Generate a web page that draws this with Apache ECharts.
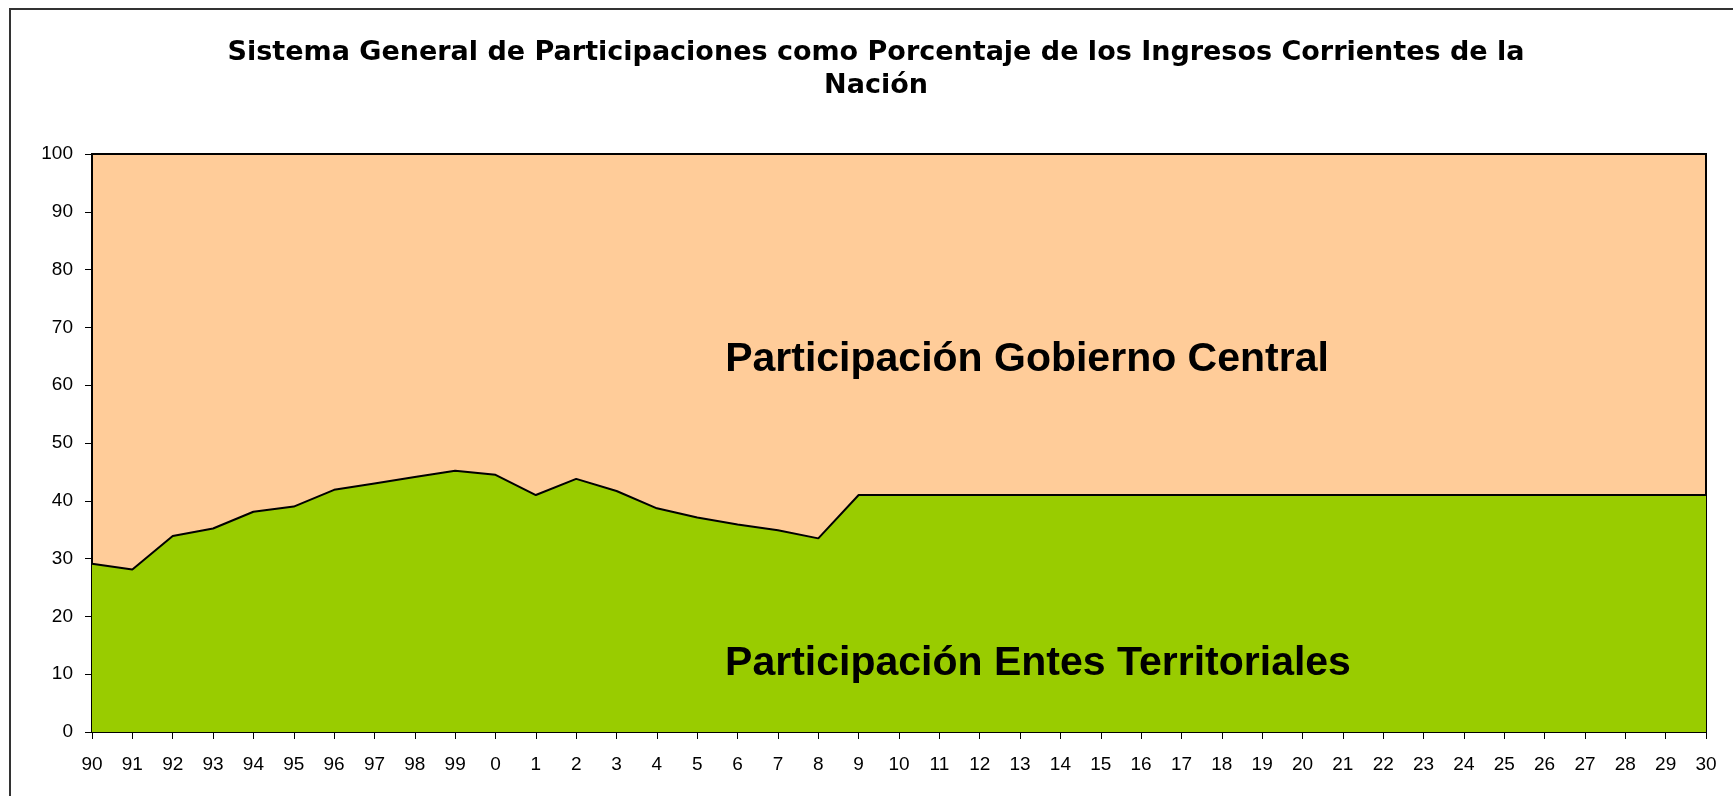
<!DOCTYPE html>
<html>
<head>
<meta charset="utf-8">
<script src="https://cdn.jsdelivr.net/npm/echarts@6/dist/echarts.min.js"></script>
<style>
  html, body { margin: 0; padding: 0; background: #fff; }
  #chart { width: 1733px; height: 796px; }
</style>
</head>
<body>
<div id="chart"></div>
<script>
// años: 1990-1999 y luego 2000-2030
var years = ['90', '91', '92', '93', '94', '95', '96', '97', '98', '99',
  '0', '1', '2', '3', '4', '5', '6', '7', '8', '9', '10',
  '11', '12', '13', '14', '15', '16', '17', '18', '19', '20',
  '21', '22', '23', '24', '25', '26', '27', '28', '29', '30'];

// participación entes territoriales (%)
var entes = [29.1, 28.1, 33.9, 35.2, 38.1, 39.0, 41.9, 43.0, 44.1, 45.2,
  44.5, 41.0, 43.8, 41.7, 38.7, 37.1, 35.9, 34.9, 33.5, 41.0, 41.0,
  41.0, 41.0, 41.0, 41.0, 41.0, 41.0, 41.0, 41.0, 41.0, 41.0,
  41.0, 41.0, 41.0, 41.0, 41.0, 41.0, 41.0, 41.0, 41.0, 41.0];

var titulo = 'Sistema General de Participaciones como Porcentaje de los Ingresos Corrientes de la\nNación';
var labelCentral = 'Participación Gobierno Central';
var labelEntes = 'Participación Entes Territoriales';

var FONT = '"Liberation Sans", Arial, sans-serif';

var myChart = echarts.init(document.getElementById('chart'));
var option = {
  animation: false,
  backgroundColor: '#fff',
  title: {
    text: titulo,
    left: 871,
    textAlign: 'center',
    top: 31,
    textStyle: {
      fontFamily: '"DejaVu Sans", sans-serif',
      fontWeight: 'bold',
      fontSize: 27,
      lineHeight: 33,
      color: '#000'
    }
  },
  grid: {
    left: 92,
    right: 27,
    top: 154,
    bottom: 64,
    show: true,
    backgroundColor: '#FFCC99',   // área del gobierno central
    borderColor: '#000',
    borderWidth: 2
  },
  xAxis: {
    type: 'category',
    data: years,
    boundaryGap: false,
    axisLine: { lineStyle: { color: '#000', width: 1.5 } },
    axisTick: { show: true, length: 7, lineStyle: { color: '#000' } },
    axisLabel: {
      interval: 0,
      margin: 23,
      fontFamily: FONT,
      fontSize: 19,
      color: '#000'
    },
    splitLine: { show: false }
  },
  yAxis: {
    type: 'value',
    min: 0,
    max: 100,
    interval: 10,
    axisLine: { show: true, lineStyle: { color: '#000', width: 1.5 } },
    axisTick: { show: true, length: 7, lineStyle: { color: '#000' } },
    axisLabel: {
      margin: 19,
      fontFamily: FONT,
      fontSize: 19,
      color: '#000'
    },
    splitLine: { show: false }
  },
  series: [
    {
      name: labelEntes,
      type: 'line',
      data: entes,
      symbol: 'none',
      lineStyle: { color: '#000', width: 2 },
      areaStyle: { color: '#99CC00', opacity: 1 }
    }
  ],
  graphic: [
    {
      type: 'rect',
      shape: { x: 10, y: 9, width: 1800, height: 900 },
      style: { fill: 'none', stroke: '#333', lineWidth: 2 },
      silent: true
    },
    {
      type: 'text',
      x: 1027,
      y: 360,
      z: 10,
      style: {
        text: labelCentral,
        font: 'bold 41px ' + FONT,
        fill: '#000',
        align: 'center',
        verticalAlign: 'middle'
      }
    },
    {
      type: 'text',
      x: 1038,
      y: 664,
      z: 10,
      style: {
        text: labelEntes,
        font: 'bold 41px ' + FONT,
        fill: '#000',
        align: 'center',
        verticalAlign: 'middle'
      }
    }
  ]
};
myChart.setOption(option);
</script>
</body>
</html>
